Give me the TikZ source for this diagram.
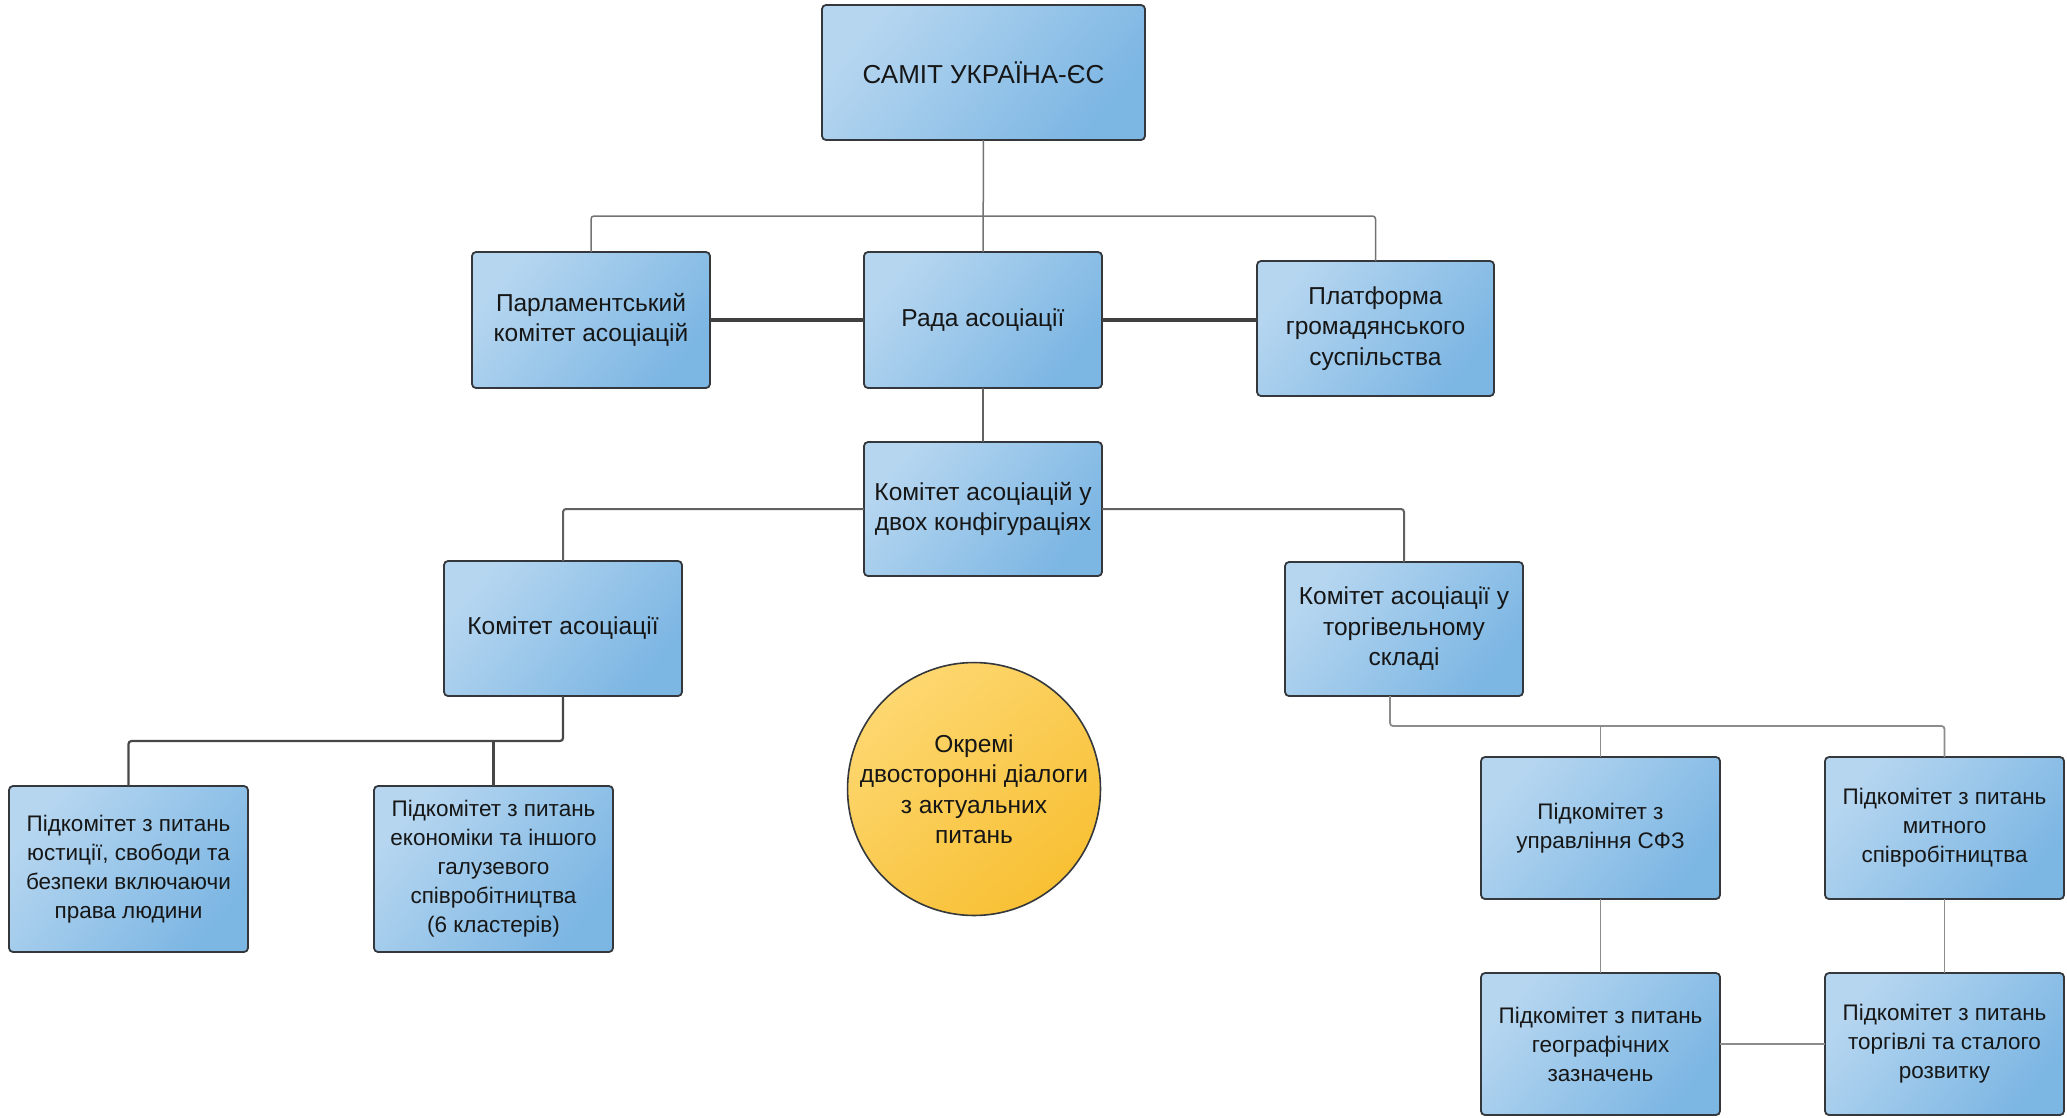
\documentclass[tikz,border=0pt]{standalone}
\usepackage{fontspec}
\setmainfont{Liberation Sans}
\usetikzlibrary{calc}
\definecolor{boxL}{RGB}{182,214,240}
\definecolor{boxR}{RGB}{124,182,227}
\definecolor{boxD}{RGB}{52,56,60}
\definecolor{ylwL}{RGB}{253,215,112}
\definecolor{ylwR}{RGB}{248,192,52}
\definecolor{txt}{RGB}{22,22,22}
\newcommand\fsTitle{\fontsize{26}{32}\selectfont}
\newcommand\fsBody{\fontsize{24.5}{30.5}\selectfont}
\newcommand\fsSub{\fontsize{22.5}{29}\selectfont}
\begin{document}
\begin{tikzpicture}[x=1pt,y=-1pt,
  box/.style={draw=boxD, line width=1.8pt, rounded corners=4pt,
    top color=boxL, bottom color=boxR, shading angle=50,
    inner sep=0pt, outer sep=0pt, align=center, text=txt, font=\fsBody,
    minimum width=238pt},
  subbox/.style={box, font=\fsSub, minimum width=239pt},
  bubble/.style={circle, draw=boxD, line width=1.6pt,
    top color=ylwL, bottom color=ylwR, shading angle=40,
    inner sep=0pt, outer sep=0pt, align=center, text=txt, font=\fsBody,
    minimum size=246pt},
  lnTop/.style={draw=black!55, line width=1.5pt, rounded corners=3pt},
  lnThick/.style={draw=black!75, line width=3.6pt},
  lnMid/.style={draw=black!62, line width=2pt, rounded corners=3pt},
  lnLeft/.style={draw=black!72, line width=2.2pt, rounded corners=3pt},
  lnRight/.style={draw=black!45, line width=1.8pt, rounded corners=3pt}]
\useasboundingbox (0,0) rectangle (2067,1117);

\node[box, minimum width=323pt, minimum height=135pt, font=\fsTitle] (summit) at (983.5,72.5) {САМІТ УКРАЇНА-ЄС};
\node[box, minimum height=136pt] (parl) at (591,320) {Парламентський\\комітет асоціацій};
\node[box, minimum height=136pt] (rada) at (983,320) {Рада асоціації};
\node[box, minimum width=237pt, minimum height=135pt] (platf) at (1375.5,328.5) {Платформа\\громадянського\\суспільства};
\node[box, minimum height=134pt] (kdvoh) at (983,509) {Комітет асоціацій у\\двох конфігураціях};
\node[box, minimum height=135pt] (kasoc) at (563,628.5) {Комітет асоціації};
\node[box, minimum height=134pt] (ktorg) at (1404,629) {Комітет асоціації у\\торгівельному\\складі};
\node[subbox, minimum height=166pt] (yust) at (128.5,869) {Підкомітет з питань\\юстиції, свободи та\\безпеки включаючи\\права людини};
\node[subbox, minimum height=166pt] (ekon) at (493.5,869) {Підкомітет з питань\\економіки та іншого\\галузевого\\співробітництва\\(6 кластерів)};
\node[subbox, minimum height=142pt] (sfz) at (1600.5,828) {Підкомітет з\\управління СФЗ};
\node[subbox, minimum height=142pt] (mytn) at (1944.5,828) {Підкомітет з питань\\митного\\співробітництва};
\node[subbox, minimum height=142pt] (geo) at (1600.5,1044) {Підкомітет з питань\\географічних\\зазначень};
\node[subbox, minimum height=142pt] (torgsr) at (1944.5,1044) {Підкомітет з питань\\торгівлі та сталого\\розвитку};
\node[bubble] (circ) at (974,789) {Окремі\\двосторонні діалоги\\з актуальних\\питань};

\coordinate (bus) at (983,216);
\coordinate (lbus) at (563,741);
\coordinate (rbus) at (1390,726);

\draw[lnTop] (summit) -- (rada);
\draw[lnTop] (parl.north) |- (bus) -| (platf.north);
\draw[lnThick] (parl.east) -- (rada.west);
\draw[lnThick] (rada.east) -- (rada.east -| platf.west);
\draw[lnMid] (rada) -- (kdvoh);
\draw[lnMid] (kdvoh.west) -| (kasoc.north);
\draw[lnMid] (kdvoh.east) -| (ktorg.north);
\draw[lnLeft] (kasoc.south) -- (lbus) -| (yust.north);
\draw[lnLeft] (lbus -| ekon.north) -- (ekon.north);
\draw[lnRight] ([xshift=-14pt]ktorg.south) -- (rbus) -| (mytn.north);
\draw[lnRight] (rbus -| sfz.north) -- (sfz.north);
\draw[lnRight] (sfz) -- (geo);
\draw[lnRight] (mytn) -- (torgsr);
\draw[lnRight] (geo) -- (torgsr);
\end{tikzpicture}
\end{document}
